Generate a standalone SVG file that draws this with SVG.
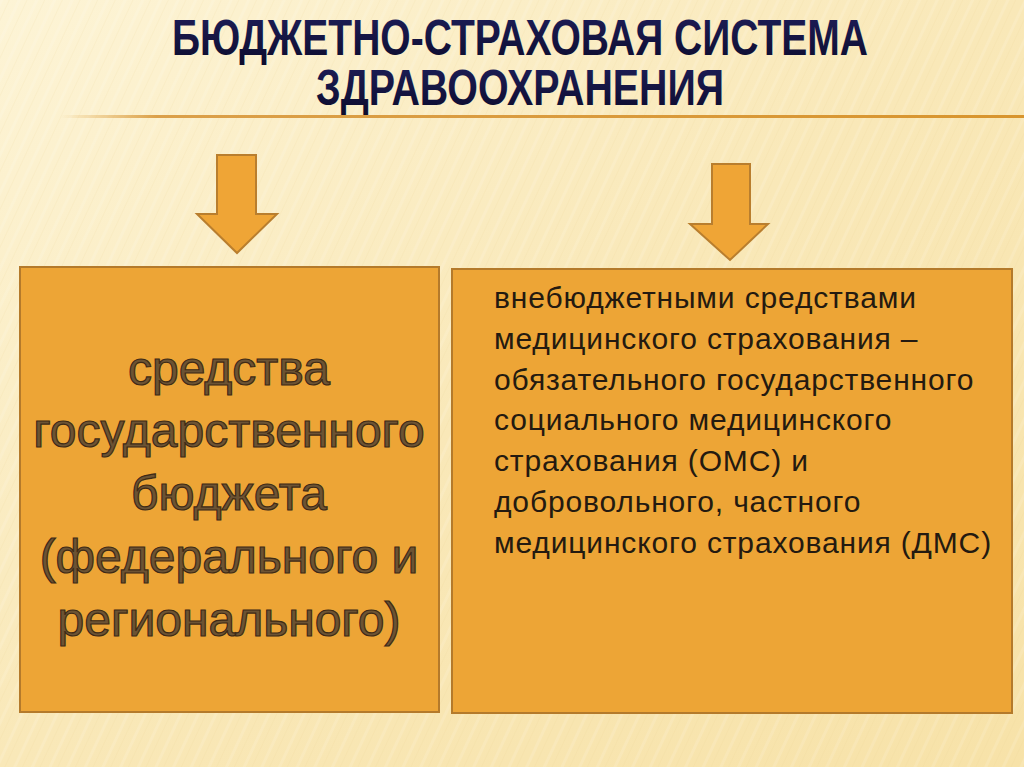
<svg xmlns="http://www.w3.org/2000/svg" width="1024" height="767" viewBox="0 0 1024 767">
  <defs>
    <linearGradient id="bg" x1="0" y1="0" x2="1" y2="1">
      <stop offset="0" stop-color="#fdf4d6"/>
      <stop offset="0.5" stop-color="#f9e8b8"/>
      <stop offset="1" stop-color="#f7e2a8"/>
    </linearGradient>
    <linearGradient id="rule" x1="0" y1="0" x2="1" y2="0">
      <stop offset="0" stop-color="#e0a84a" stop-opacity="0"/>
      <stop offset="0.1" stop-color="#dba04a"/>
      <stop offset="1" stop-color="#d8952e"/>
    </linearGradient>
    <linearGradient id="titleFill" x1="0" y1="0" x2="0" y2="1">
      <stop offset="0" stop-color="#1e1e5a"/>
      <stop offset="1" stop-color="#0c0c2c"/>
    </linearGradient>
    <pattern id="stripes" width="16" height="767" patternUnits="userSpaceOnUse" patternTransform="rotate(25)">
      <rect x="0" y="0" width="3" height="767" fill="#ffffff" opacity="0.12"/>
      <rect x="8" y="0" width="1" height="767" fill="#e8cf8e" opacity="0.12"/>
    </pattern>
  </defs>
  <style>
    .box { fill: #eda536; stroke: #b47a2b; stroke-width: 2; }
    .arrow { fill: #efa536; stroke: #b97e2e; stroke-width: 2; stroke-linejoin: miter; }
    .title { font-family: "Liberation Sans", Arial, sans-serif; font-weight: bold; font-size: 50px; fill: url(#titleFill); }
    .big { font-family: "Liberation Sans", Arial, sans-serif; font-size: 48px; fill: #6c5333; stroke: #3e2a16; stroke-width: 1.2; text-anchor: middle; }
    .body { font-family: "Liberation Sans", Arial, sans-serif; font-size: 30px; letter-spacing: 0.85px; fill: #241a10; }
  </style>

  <rect x="0" y="0" width="1024" height="767" fill="url(#bg)"/>
  <rect x="0" y="0" width="1024" height="767" fill="url(#stripes)"/>

  <g id="title">
    <text class="title" x="172" y="55" textLength="696" lengthAdjust="spacingAndGlyphs">БЮДЖЕТНО-СТРАХОВАЯ СИСТЕМА</text>
    <text class="title" x="316" y="105" textLength="408" lengthAdjust="spacingAndGlyphs">ЗДРАВООХРАНЕНИЯ</text>
    <rect x="60" y="115" width="964" height="3" fill="url(#rule)"/>
  </g>

  <g id="connectors">
    <polygon class="arrow" points="217,155 256,155 256,214 277,214 237,253 197,214 217,214"/>
    <polygon class="arrow" points="712,164 750,164 750,224 768,224 730,260 690,224 712,224"/>
  </g>

  <g id="node-budget">
    <rect class="box" x="20" y="267" width="419" height="445"/>
    <text class="big" x="229" y="385">средства</text>
    <text class="big" x="229" y="447">государственного</text>
    <text class="big" x="229" y="510">бюджета</text>
    <text class="big" x="229" y="573">(федерального и</text>
    <text class="big" x="229" y="636">регионального)</text>
  </g>

  <g id="node-insurance">
    <rect class="box" x="452" y="269" width="560" height="444"/>
    <text class="body" x="494" y="308">внебюджетными средствами</text>
    <text class="body" x="494" y="349">медицинского страхования –</text>
    <text class="body" x="494" y="390">обязательного государственного</text>
    <text class="body" x="494" y="430">социального медицинского</text>
    <text class="body" x="494" y="471">страхования (ОМС) и</text>
    <text class="body" x="494" y="512">добровольного, частного</text>
    <text class="body" x="494" y="553">медицинского страхования (ДМС)</text>
  </g>
</svg>
